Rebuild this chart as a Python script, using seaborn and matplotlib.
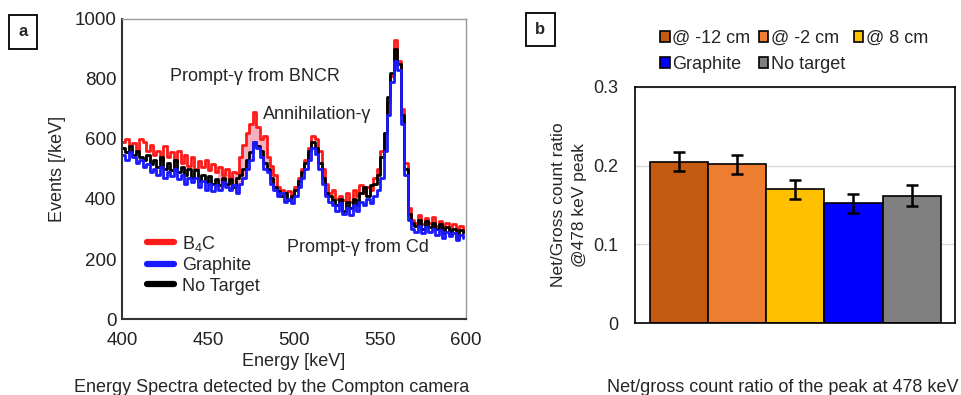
import numpy as np
import pandas as pd
import matplotlib
matplotlib.use("Agg")
import matplotlib.pyplot as plt
from matplotlib.lines import Line2D
from matplotlib.ticker import MultipleLocator
import seaborn as sns

# ---- panel a: energy spectra (2 keV bins, 400-598 keV lower edges) ----
energy = np.arange(400, 600, 2)

b4c = [590, 600, 575, 585, 560, 600, 590, 560, 580, 545,
       560, 530, 575, 540, 555, 525, 560, 520, 545, 510,
       540, 500, 525, 505, 530, 495, 515, 490, 505, 480,
       500, 470, 490, 485, 540, 580, 620, 650, 690, 640,
       600, 610, 540, 510, 480, 440, 430, 420, 425, 405,
       440, 470, 500, 530, 570, 610, 600, 560, 500, 450,
       420, 430, 400, 410, 395, 420, 390, 430, 410, 445,
       420, 440, 430, 470, 500, 560, 620, 720, 810, 930,
       860, 700, 520, 370, 330, 320, 345, 315, 335, 320,
       340, 310, 325, 300, 320, 290, 315, 300, 310, 290]

graphite = [545, 530, 555, 540, 520, 530, 505, 515, 490, 500,
            480, 505, 470, 490, 475, 500, 465, 480, 450, 470,
            455, 470, 440, 460, 430, 450, 425, 445, 430, 455,
            440, 430, 445, 420, 450, 470, 500, 530, 590, 570,
            540, 500, 490, 450, 430, 410, 420, 390, 400, 385,
            410, 440, 470, 500, 530, 570, 550, 500, 450, 410,
            390, 380, 360, 385, 350, 370, 345, 380, 360, 390,
            380, 400, 385, 410, 430, 470, 560, 680, 790, 860,
            830, 650, 480, 330, 300, 290, 310, 285, 305, 290,
            300, 280, 295, 270, 290, 275, 285, 265, 280, 270]

no_target = [570, 555, 575, 545, 560, 540, 530, 545, 515, 530,
             505, 540, 500, 520, 495, 530, 490, 505, 480, 500,
             470, 495, 460, 480, 455, 475, 450, 465, 445, 470,
             450, 465, 440, 470, 480, 500, 530, 555, 590, 575,
             560, 520, 500, 470, 440, 425, 410, 420, 395, 410,
             430, 460, 490, 520, 560, 590, 570, 520, 470, 420,
             410, 395, 380, 400, 360, 390, 370, 400, 380, 420,
             440, 410, 445, 450, 480, 540, 620, 740, 820, 900,
             850, 680, 500, 350, 320, 310, 330, 300, 325, 305,
             320, 300, 315, 285, 305, 280, 300, 270, 295, 285]

spec_colors = {"B4C": "#ff1a1a", "Graphite": "#1a1aff", "No Target": "#000000"}

# ---- panel b: net/gross ratio at 478 keV ----
conditions = ["@ -12 cm", "@ -2 cm", "@ 8 cm", "Graphite", "No target"]
ratios = [0.205, 0.202, 0.170, 0.152, 0.162]
ratio_err = [0.012, 0.012, 0.012, 0.012, 0.013]
bar_colors = ["#c55a11", "#ed7d31", "#ffc000", "#0000ff", "#808080"]

sns.set_theme(style="white")
plt.rcParams["font.family"] = ["Liberation Sans", "DejaVu Sans"]
plt.rcParams["mathtext.fontset"] = "custom"
plt.rcParams["mathtext.rm"] = "Liberation Sans"

fig = plt.figure(figsize=(9.61, 3.95), dpi=100)
ax1 = fig.add_axes([0.127, 0.192, 0.358, 0.761])
ax2 = fig.add_axes([0.661, 0.182, 0.333, 0.598])

# spectra
spec = pd.DataFrame({
    "energy": np.concatenate([energy] * 3),
    "events": np.concatenate([b4c, no_target, graphite]),
    "sample": ["B4C"] * len(energy) + ["No Target"] * len(energy) + ["Graphite"] * len(energy),
})
red = np.array(b4c)
blue = np.array(graphite)
ax1.fill_between(energy, red, blue, where=(energy >= 456) & (energy <= 490) & (red > blue),
                 step="post", color="#f4b0c0", lw=0)
sns.lineplot(data=spec, x="energy", y="events", hue="sample",
             hue_order=["B4C", "No Target", "Graphite"], palette=spec_colors,
             drawstyle="steps-post", estimator=None, lw=2.0, legend=False, ax=ax1)

ax1.set_xlim(400, 600)
ax1.set_ylim(0, 1000)
ax1.xaxis.set_major_locator(MultipleLocator(50))
ax1.xaxis.set_minor_locator(MultipleLocator(10))
ax1.yaxis.set_major_locator(MultipleLocator(200))
ax1.yaxis.set_minor_locator(MultipleLocator(50))
ax1.tick_params(which="major", direction="in", length=9, width=1.2, labelsize=13.5,
                colors="#555555", labelcolor="#222222")
ax1.tick_params(axis="x", which="major", pad=9)
ax1.tick_params(axis="y", which="major", pad=4)
ax1.tick_params(which="minor", direction="in", length=5, width=1.0, colors="#555555")
ax1.set_xlabel("Energy [keV]", fontsize=13, labelpad=3)
ax1.set_ylabel("Events [/keV]", fontsize=13, labelpad=6)
for side in ["left", "bottom"]:
    ax1.spines[side].set_color("#333333")
    ax1.spines[side].set_linewidth(1.5)
for side in ["top", "right"]:
    ax1.spines[side].set_color("#999999")
    ax1.spines[side].set_linewidth(1.0)

ax1.text(428, 807, "Prompt-γ from BNCR", fontsize=13, va="center")
ax1.text(482, 680, "Annihilation-γ", fontsize=13, va="center")
ax1.text(496, 240, "Prompt-γ from Cd", fontsize=13, va="center")

handles = [Line2D([], [], color=spec_colors[k], lw=4.5) for k in ["B4C", "Graphite", "No Target"]]
ax1.legend(handles, ["B$_4$C", "Graphite", "No Target"], loc="upper left",
           bbox_to_anchor=(0.045, 0.315), frameon=False, fontsize=13,
           handlelength=1.5, handletextpad=0.45, labelspacing=0.2, borderpad=0)

# ratio bars
ratio_df = pd.DataFrame({"peak": ["478 keV"] * len(conditions), "condition": conditions,
                         "ratio": ratios})
sns.barplot(data=ratio_df, x="peak", y="ratio", hue="condition", hue_order=conditions,
            palette=bar_colors, saturation=1, width=0.77, edgecolor="black", linewidth=1.2,
            errorbar=None, ax=ax2)
for patch, err in zip(ax2.patches[:len(conditions)], ratio_err):
    xc = patch.get_x() + patch.get_width() / 2
    ax2.errorbar(xc, patch.get_height(), yerr=err, color="black", lw=1.8,
                 capsize=4, capthick=1.8)

ax2.set_ylim(0, 0.3)
ax2.set_yticks([0, 0.1, 0.2, 0.3])
ax2.set_yticklabels(["0", "0.1", "0.2", "0.3"])
ax2.set_xticks([])
ax2.set_xlabel("")
ax2.set_ylabel("Net/Gross count ratio\n@478 keV peak", fontsize=12.5, labelpad=5,
               linespacing=1.5)
ax2.tick_params(axis="y", length=0, labelsize=13, pad=12)
ax2.yaxis.grid(True, color="#d9d9d9", lw=1)
ax2.set_axisbelow(True)
for sp in ax2.spines.values():
    sp.set_color("black")
    sp.set_linewidth(1.2)

h, l = ax2.get_legend_handles_labels()
order = [0, 3, 1, 4, 2]
ax2.legend([h[i] for i in order], [l[i] for i in order], ncol=3, loc="upper left",
           bbox_to_anchor=(0.677, 0.948), bbox_transform=fig.transFigure, frameon=False,
           fontsize=13, handlelength=0.55, handleheight=0.55, handletextpad=0.15,
           columnspacing=0.45, labelspacing=0.5, borderpad=0)

# panel labels and captions
fig.text(0.0239, 0.919, "a", fontsize=12, fontweight="bold", ha="center", va="center",
         bbox=dict(boxstyle="square,pad=0.55", fc="white", ec="black", lw=1.3))
fig.text(0.5624, 0.925, "b", fontsize=12, fontweight="bold", ha="center", va="center",
         bbox=dict(boxstyle="square,pad=0.55", fc="white", ec="black", lw=1.3))
fig.text(0.283, 0.02, "Energy Spectra detected by the Compton camera", fontsize=13,
         ha="center", va="center")
fig.text(0.814, 0.02, "Net/gross count ratio of the peak at 478 keV", fontsize=13,
         ha="center", va="center")

fig.savefig("out.png", dpi=100)
